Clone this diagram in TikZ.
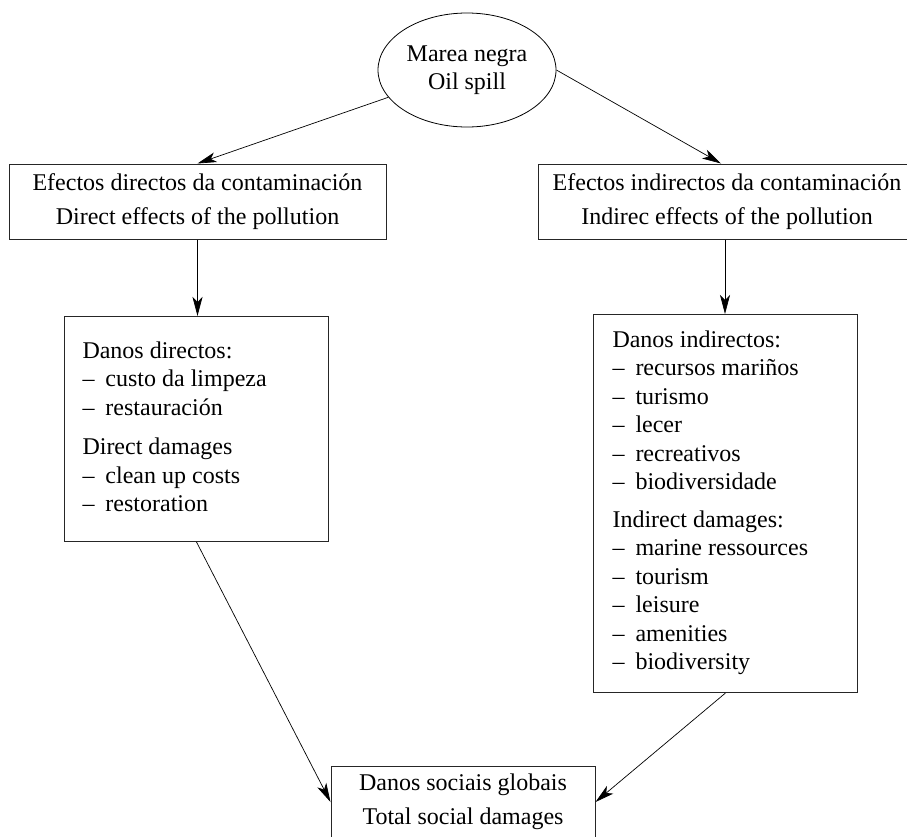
\documentclass[tikz,border=0pt]{standalone}
\usepackage{fontspec}
\setmainfont{Liberation Serif}
\usetikzlibrary{arrows.meta,shapes.geometric}
\newcommand{\dashitem}{\makebox[23pt][l]{–}}
\begin{document}
\begin{tikzpicture}[x=1pt,y=-1pt,
  every node/.style={font=\fontsize{24}{28.5}\selectfont},
  box/.style={draw=black!85, line width=1pt, inner sep=0pt},
  arr/.style={-{Stealth[length=19pt,width=10pt,inset=5pt]}, line width=0.7pt}]
\useasboundingbox (0,0) rectangle (907,836);
\clip (0,0) rectangle (907,836);
\node[draw, ellipse, line width=0.8pt, minimum width=178pt, minimum height=114pt, inner sep=0pt, align=center] (ell) at (467,70) {Marea negra\\Oil spill};
\node[box, minimum width=377pt, minimum height=75pt, align=center] (b1) at (197.5,201.5) {Efectos directos da contaminación\\[5.5pt]Direct effects of the pollution};
\node[box, minimum width=378pt, minimum height=75pt, align=center] (b2) at (727,201.5) {Efectos indirectos da contaminación\\[5.5pt]Indirec effects of the pollution};
\node[box, anchor=north west] (b3) at (64,316) {\parbox[c][225pt][t]{264pt}{\leftskip=18pt\vspace*{25pt}Danos directos:\\
\dashitem custo da limpeza\\
\dashitem restauración\\[11pt]
Direct damages\\
\dashitem clean up costs\\
\dashitem restoration}};
\node[box, anchor=north west] (b4) at (593,314) {\parbox[c][378pt][t]{264pt}{\leftskip=19pt\vspace*{16pt}Danos indirectos:\\
\dashitem recursos mariños\\
\dashitem turismo\\
\dashitem lecer\\
\dashitem recreativos\\
\dashitem biodiversidade\\[9pt]
Indirect damages:\\
\dashitem marine ressources\\
\dashitem tourism\\
\dashitem leisure\\
\dashitem amenities\\
\dashitem biodiversity}};
\node[box, minimum width=264pt, minimum height=72pt, align=center] (b5) at (463,802) {Danos sociais globais\\[5.5pt]Total social damages};
\draw[arr] (ell) -- (b1.north);
\draw[arr] (ell.east) -- ([xshift=-6pt]b2.north);
\draw[arr] (b1.south) -- (b1.south |- b3.north);
\draw[arr] ([xshift=-2pt]b2.south) -- ([xshift=-2pt]b2.south |- b4.north);
\draw[arr] (b3.south) -- (b5.west);
\draw[arr] (b4.south) -- (b5.east);
\end{tikzpicture}
\end{document}
